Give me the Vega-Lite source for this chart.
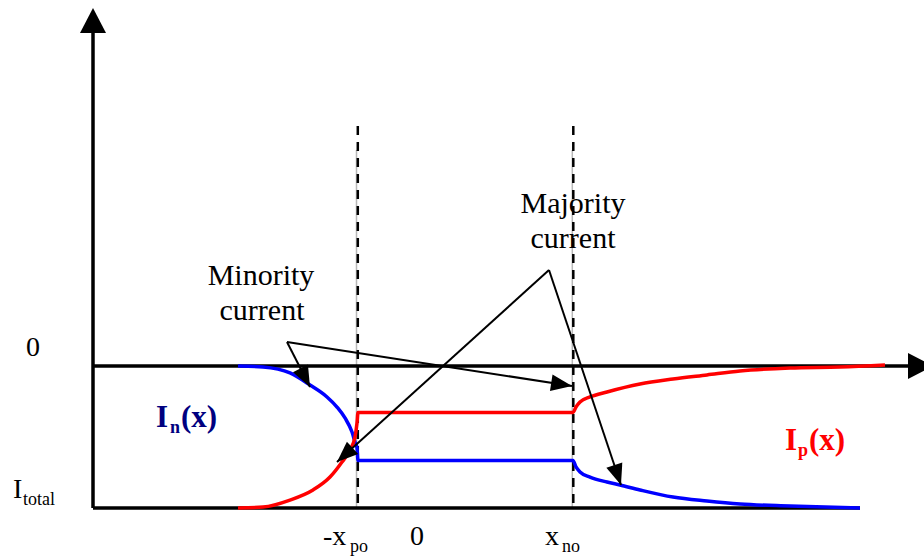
{
  "$schema": "https://vega.github.io/schema/vega-lite/v6.json",
  "width": 924,
  "height": 557,
  "autosize": {"type": "none"},
  "padding": 0,
  "background": "white",
  "config": {"view": {"stroke": null}},
  "datasets": {
    "grayguides": [
      {"x": -0.605, "y": 1.521, "x2": -0.605, "y2": -1.0},
      {"x": 1.553, "y": 1.521, "x2": 1.553, "y2": -1.0}
    ],
    "guides": [
      {"x": -0.592, "y": 1.69, "x2": -0.592, "y2": -1.0},
      {"x": 1.563, "y": 1.69, "x2": 1.563, "y2": -1.0}
    ],
    "axislines": [
      {"x": -3.24, "y": -1.0, "x2": -3.24, "y2": 2.4},
      {"x": -3.24, "y": 0, "x2": 4.92, "y2": 0},
      {"x": -3.24, "y": -1.0, "x2": 4.43, "y2": -1.0}
    ],
    "curves": [
      {"s": "n", "x": -1.79, "y": 0.0},
      {"s": "n", "x": -1.54, "y": -0.007},
      {"s": "n", "x": -1.27, "y": -0.049},
      {"s": "n", "x": -1.07, "y": -0.134},
      {"s": "n", "x": -0.9, "y": -0.218},
      {"s": "n", "x": -0.8, "y": -0.289},
      {"s": "n", "x": -0.72, "y": -0.366},
      {"s": "n", "x": -0.65, "y": -0.465},
      {"s": "n", "x": -0.62, "y": -0.535},
      {"s": "n", "x": -0.6, "y": -0.577},
      {"s": "n", "x": -0.59, "y": -0.665},
      {"s": "n", "x": 1.56, "y": -0.665},
      {"s": "n", "x": 1.59, "y": -0.711},
      {"s": "n", "x": 1.63, "y": -0.746},
      {"s": "n", "x": 1.73, "y": -0.782},
      {"s": "n", "x": 1.9, "y": -0.817},
      {"s": "n", "x": 2.03, "y": -0.838},
      {"s": "n", "x": 2.23, "y": -0.873},
      {"s": "n", "x": 2.56, "y": -0.923},
      {"s": "n", "x": 2.9, "y": -0.951},
      {"s": "n", "x": 3.23, "y": -0.972},
      {"s": "n", "x": 3.73, "y": -0.986},
      {"s": "n", "x": 4.43, "y": -1.0},
      {"s": "p", "x": -1.79, "y": -1.0},
      {"s": "p", "x": -1.54, "y": -0.993},
      {"s": "p", "x": -1.27, "y": -0.944},
      {"s": "p", "x": -1.04, "y": -0.873},
      {"s": "p", "x": -0.87, "y": -0.782},
      {"s": "p", "x": -0.75, "y": -0.676},
      {"s": "p", "x": -0.67, "y": -0.592},
      {"s": "p", "x": -0.62, "y": -0.5},
      {"s": "p", "x": -0.6, "y": -0.401},
      {"s": "p", "x": -0.59, "y": -0.327},
      {"s": "p", "x": 1.56, "y": -0.327},
      {"s": "p", "x": 1.59, "y": -0.289},
      {"s": "p", "x": 1.63, "y": -0.254},
      {"s": "p", "x": 1.73, "y": -0.218},
      {"s": "p", "x": 1.9, "y": -0.183},
      {"s": "p", "x": 2.23, "y": -0.127},
      {"s": "p", "x": 2.56, "y": -0.092},
      {"s": "p", "x": 2.9, "y": -0.063},
      {"s": "p", "x": 3.23, "y": -0.035},
      {"s": "p", "x": 3.73, "y": -0.014},
      {"s": "p", "x": 4.23, "y": -0.007},
      {"s": "p", "x": 4.68, "y": 0.007}
    ],
    "pointers": [
      {"x": -1.3, "y": 0.169, "x2": -1.07, "y2": -0.148},
      {"x": -1.3, "y": 0.169, "x2": 1.55, "y2": -0.141},
      {"x": 1.32, "y": 0.676, "x2": -0.8, "y2": -0.676},
      {"x": 1.32, "y": 0.676, "x2": 2.04, "y2": -0.838}
    ],
    "axisheads": [
      {"x": -3.24, "y": 2.521, "dir": 0},
      {"x": 5.16, "y": 0, "dir": 90}
    ],
    "noteheads": [
      {"x": -1.07, "y": -0.148, "dir": 152.9},
      {"x": 1.55, "y": -0.141, "dir": 98.8},
      {"x": -0.8, "y": -0.676, "dir": 227.8},
      {"x": 2.04, "y": -0.838, "dir": 161.5}
    ],
    "texts": [
      {"g": "big", "t": "Minority", "x": -1.56, "y": 0.57},
      {"g": "big", "t": "current", "x": -1.55, "y": 0.324},
      {"g": "big", "t": "Majority", "x": 1.56, "y": 1.077},
      {"g": "big", "t": "current", "x": 1.56, "y": 0.831},
      {"g": "tick", "t": "0", "x": -3.84, "y": 0.07},
      {"g": "tick", "t": "0", "x": 0.0, "y": -1.261},
      {"g": "main", "t": "-x", "x": -0.94, "y": -1.261},
      {"g": "main", "t": "x", "x": 1.28, "y": -1.261},
      {"g": "main", "t": "I", "x": -4.04, "y": -0.93},
      {"g": "sub", "t": "po", "x": -0.67, "y": -1.31},
      {"g": "sub", "t": "no", "x": 1.45, "y": -1.31},
      {"g": "sub", "t": "total", "x": -3.94, "y": -0.979}
    ],
    "boldtexts": [
      {"g": "bold", "s": "n", "t": "I", "x": -2.61, "y": -0.43},
      {"g": "bold", "s": "n", "t": "(x)", "x": -2.36, "y": -0.43},
      {"g": "bold", "s": "p", "t": "I", "x": 3.68, "y": -0.592},
      {"g": "bold", "s": "p", "t": "(x)", "x": 3.92, "y": -0.592},
      {"g": "boldsub", "s": "n", "t": "n", "x": -2.47, "y": -0.472},
      {"g": "boldsub", "s": "p", "t": "p", "x": 3.81, "y": -0.634}
    ]
  },
  "encoding": {
    "x": {"field": "x", "type": "quantitative", "scale": {"domain": [-4.17, 5.07], "nice": false, "zero": false}, "axis": null},
    "y": {"field": "y", "type": "quantitative", "scale": {"domain": [-1.3451, 2.5775], "nice": false, "zero": false}, "axis": null}
  },
  "layer": [
    {
      "data": {"name": "grayguides"},
      "mark": {"type": "rule", "color": "#b8b8b8", "strokeWidth": 1.5},
      "encoding": {"x2": {"field": "x2"}, "y2": {"field": "y2"}}
    },
    {
      "data": {"name": "guides"},
      "mark": {"type": "rule", "color": "black", "strokeWidth": 2.5, "strokeDash": [9, 7]},
      "encoding": {"x2": {"field": "x2"}, "y2": {"field": "y2"}}
    },
    {
      "data": {"name": "axislines"},
      "mark": {"type": "rule", "color": "black", "strokeWidth": 3.5},
      "encoding": {"x2": {"field": "x2"}, "y2": {"field": "y2"}}
    },
    {
      "data": {"name": "curves"},
      "mark": {"type": "line", "strokeWidth": 3.5, "interpolate": "monotone"},
      "encoding": {
        "color": {"field": "s", "type": "nominal", "scale": {"domain": ["n", "p"], "range": ["#0000ff", "#ff0000"]}, "legend": null}
      }
    },
    {
      "data": {"name": "pointers"},
      "mark": {"type": "rule", "color": "black", "strokeWidth": 2},
      "encoding": {"x2": {"field": "x2"}, "y2": {"field": "y2"}}
    },
    {
      "data": {"name": "axisheads"},
      "mark": {"type": "point", "shape": "M0,0L0.52,1L-0.52,1Z", "filled": true, "color": "black", "opacity": 1, "size": 2500, "strokeWidth": 0},
      "encoding": {"angle": {"field": "dir", "type": "quantitative", "scale": null}}
    },
    {
      "data": {"name": "noteheads"},
      "mark": {"type": "point", "shape": "M0,0L0.4,1L-0.4,1Z", "filled": true, "color": "black", "opacity": 1, "size": 1764, "strokeWidth": 0},
      "encoding": {"angle": {"field": "dir", "type": "quantitative", "scale": null}}
    },
    {
      "data": {"name": "texts"},
      "transform": [{"filter": "datum.g === 'big'"}],
      "mark": {"type": "text", "font": "Liberation Serif", "fontSize": 30, "align": "center", "baseline": "alphabetic", "color": "black"},
      "encoding": {"text": {"field": "t"}}
    },
    {
      "data": {"name": "texts"},
      "transform": [{"filter": "datum.g === 'tick'"}],
      "mark": {"type": "text", "font": "Liberation Serif", "fontSize": 28, "align": "center", "baseline": "alphabetic", "color": "black"},
      "encoding": {"text": {"field": "t"}}
    },
    {
      "data": {"name": "texts"},
      "transform": [{"filter": "datum.g === 'main'"}],
      "mark": {"type": "text", "font": "Liberation Serif", "fontSize": 28, "align": "left", "baseline": "alphabetic", "color": "black"},
      "encoding": {"text": {"field": "t"}}
    },
    {
      "data": {"name": "texts"},
      "transform": [{"filter": "datum.g === 'sub'"}],
      "mark": {"type": "text", "font": "Liberation Serif", "fontSize": 18, "align": "left", "baseline": "alphabetic", "color": "black"},
      "encoding": {"text": {"field": "t"}}
    },
    {
      "data": {"name": "boldtexts"},
      "transform": [{"filter": "datum.g === 'bold'"}],
      "mark": {"type": "text", "font": "Liberation Serif", "fontSize": 31, "fontWeight": "bold", "align": "left", "baseline": "alphabetic"},
      "encoding": {
        "text": {"field": "t"},
        "color": {"field": "s", "type": "nominal", "scale": {"domain": ["n", "p"], "range": ["#000080", "#ff0000"]}, "legend": null}
      }
    },
    {
      "data": {"name": "boldtexts"},
      "transform": [{"filter": "datum.g === 'boldsub'"}],
      "mark": {"type": "text", "font": "Liberation Serif", "fontSize": 18, "fontWeight": "bold", "align": "left", "baseline": "alphabetic"},
      "encoding": {
        "text": {"field": "t"},
        "color": {"field": "s", "type": "nominal", "scale": {"domain": ["n", "p"], "range": ["#000080", "#ff0000"]}, "legend": null}
      }
    }
  ],
  "resolve": {"scale": {"color": "independent"}}
}
